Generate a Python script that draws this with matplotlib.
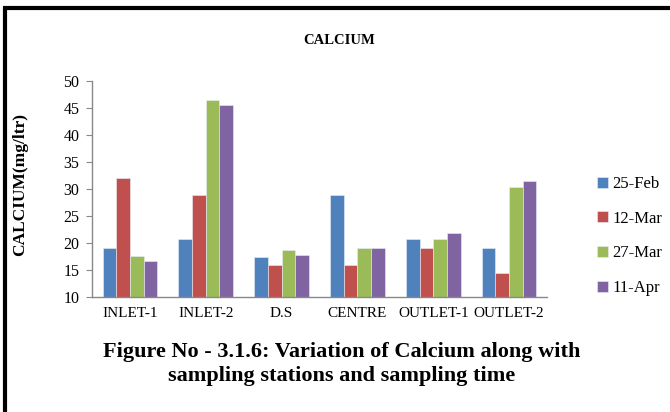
import matplotlib
matplotlib.use("Agg")
import matplotlib.pyplot as plt
import numpy as np
from matplotlib.lines import Line2D

stations = ["INLET-1", "INLET-2", "D.S", "CENTRE", "OUTLET-1", "OUTLET-2"]
series_names = ["25-Feb", "12-Mar", "27-Mar", "11-Apr"]
feb25 = [19.1, 20.7, 17.5, 28.8, 20.8, 19.1]
mar12 = [32.0, 28.8, 16.0, 16.0, 19.1, 14.4]
mar27 = [17.6, 46.4, 18.7, 19.1, 20.8, 30.4]
apr11 = [16.6, 45.5, 17.7, 19.1, 21.8, 31.4]
yticks = [10, 15, 20, 25, 30, 35, 40, 45, 50]
colors = ["#4F81BD", "#C0504D", "#9BBB59", "#8064A2"]

W, H = 670, 412
fig = plt.figure(figsize=(W / 100, H / 100), dpi=100)
ax = fig.add_axes([92 / W, 1 - 297 / H, (547 - 92) / W, (297 - 81) / H])

serif = ["Liberation Serif", "DejaVu Serif"]
x = np.arange(len(stations))
bw = 0.18
for i, (vals, c) in enumerate(zip([feb25, mar12, mar27, apr11], colors)):
    ax.bar(x + (i - 1.5) * bw, np.array(vals) - 10, bottom=10, width=bw,
           color=c, edgecolor="#e8eef8", linewidth=0.4, label=series_names[i])

ax.set_xlim(-0.5, len(stations) - 0.5)
ax.set_ylim(10, 50)
ax.set_yticks(yticks)
ax.set_yticklabels([str(t) for t in yticks], fontfamily=serif, fontsize=11.5)
ax.set_xticks(x)
ax.set_xticklabels(stations, fontfamily=serif, fontsize=11)
for s in ["top", "right"]:
    ax.spines[s].set_visible(False)
for s in ["left", "bottom"]:
    ax.spines[s].set_color("#888888")
    ax.spines[s].set_linewidth(1.0)
ax.tick_params(axis="y", length=4, color="#888888", pad=5)
ax.tick_params(axis="x", length=0, pad=7)

ax.set_ylabel("CALCIUM(mg/ltr)", fontfamily=serif, fontweight="bold", fontsize=12.5)
ax.yaxis.set_label_coords(28 / W, 1 - 184 / H, transform=fig.transFigure)

fig.text(339 / W, 1 - 41 / H, "CALCIUM", ha="center", va="center",
         fontfamily=serif, fontweight="bold", fontsize=10.5)

leg = ax.legend(loc="upper left", bbox_to_anchor=(582 / W, 1 - 161 / H),
                bbox_transform=fig.transFigure, frameon=False,
                prop={"family": serif, "size": 12}, handlelength=0.65,
                handleheight=0.65, handletextpad=0.25, labelspacing=1.12)

fig.text(342 / W, 1 - 352 / H, "Figure No - 3.1.6: Variation of Calcium along with",
         ha="center", va="center", fontfamily=serif, fontweight="bold", fontsize=16)
fig.text(342 / W, 1 - 376 / H, "sampling stations and sampling time",
         ha="center", va="center", fontfamily=serif, fontweight="bold", fontsize=16)

# border lines (top and left)
fig.add_artist(Line2D([3 / W, 1], [1 - 8 / H, 1 - 8 / H], color="black", linewidth=3,
                      transform=fig.transFigure, solid_capstyle="butt"))
fig.add_artist(Line2D([5 / W, 5 / W], [0, 1 - 6.5 / H], color="black", linewidth=3,
                      transform=fig.transFigure, solid_capstyle="butt"))

fig.savefig("out.png", dpi=100)
